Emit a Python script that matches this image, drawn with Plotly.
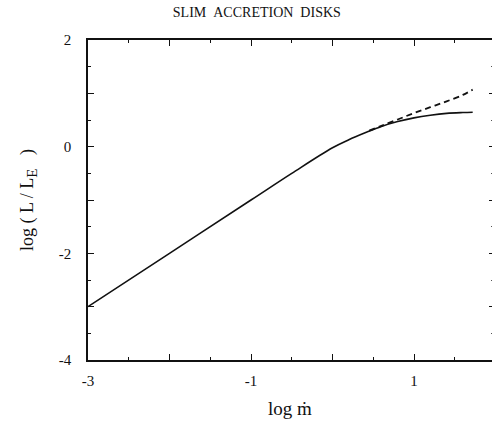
import plotly.graph_objects as go

# log(mdot) sample points and the two luminosity curves
log_mdot = [-3.0, -2.0, -1.0, -0.5, 0.0, 0.2, 0.4, 0.6, 0.8, 1.0, 1.2, 1.4, 1.6, 1.72]
log_L_solid = [-3.0, -2.0, -1.0, -0.5, -0.02, 0.13, 0.26, 0.38, 0.47, 0.54, 0.59, 0.625, 0.64, 0.645]

log_mdot_dash = [0.45, 0.6, 0.8, 1.0, 1.2, 1.4, 1.6, 1.72]
log_L_dash = [0.30, 0.39, 0.51, 0.63, 0.74, 0.85, 0.97, 1.07]

# labelled ticks
x_label_vals = [-3, -1, 1]
x_label_text = ["-3", "-1", "1"]
y_label_vals = [2, 0, -2, -4]
y_label_text = ["2", "0", "-2", "-4"]
# unlabelled major ticks
x_plain_vals = [-2, 0, 2]
y_plain_vals = [1, -1, -3]

X_RANGE = [-3, 1.957]
Y_RANGE = [-4, 2]

serif = "Liberation Serif, Times New Roman, serif"
ink = "#111"

fig = go.Figure()
fig.add_trace(go.Scatter(x=log_mdot, y=log_L_solid, mode="lines",
                         line=dict(color=ink, width=1.6, shape="spline"),
                         showlegend=False))
fig.add_trace(go.Scatter(x=log_mdot_dash, y=log_L_dash, mode="lines",
                         line=dict(color=ink, width=1.8, dash="6px,4px", shape="spline"),
                         showlegend=False))
# empty traces that bring the extra tick axes into the figure
fig.add_trace(go.Scatter(x=[None], y=[None], xaxis="x2", yaxis="y2", showlegend=False))
fig.add_trace(go.Scatter(x=[None], y=[None], xaxis="x2", yaxis="y3", showlegend=False))

line_style = dict(showgrid=False, zeroline=False, showline=True,
                  linecolor=ink, linewidth=1.5, ticks="inside",
                  tickcolor=ink, tickwidth=1.3, ticklen=6)
minor_half = dict(dtick=0.5, tick0=0, ticklen=3, ticks="inside",
                  tickcolor=ink, tickwidth=1.2)

fig.update_layout(
    width=492, height=426,
    margin=dict(l=88, r=0, t=40, b=66),
    paper_bgcolor="white", plot_bgcolor="white",
    title=dict(text="SLIM&nbsp;&nbsp;ACCRETION&nbsp;&nbsp;DISKS",
               font=dict(family=serif, size=14, color=ink),
               x=0.522, xanchor="center", y=0.972, yanchor="middle"),
    xaxis=dict(range=X_RANGE, tickvals=x_label_vals, ticktext=x_label_text,
               mirror="ticks", ticklabelstandoff=6,
               tickfont=dict(family=serif, size=15, color=ink),
               title=dict(text="log ṁ", font=dict(family=serif, size=19, color=ink),
                          standoff=14),
               **line_style),
    xaxis2=dict(range=X_RANGE, overlaying="x", side="bottom", tickvals=x_plain_vals,
                mirror="ticks", showticklabels=False, minor=minor_half,
                **line_style),
    yaxis=dict(range=Y_RANGE, tickvals=y_label_vals, ticktext=y_label_text,
               ticklabelstandoff=12,
               tickfont=dict(family=serif, size=15, color=ink),
               title=dict(text="log ( L / L<sub><span style='font-size:15px'>E</span></sub>&nbsp;&nbsp;&nbsp;)",
                          font=dict(family=serif, size=18, color=ink),
                          standoff=20),
               **line_style),
    yaxis3=dict(range=Y_RANGE, overlaying="y", side="left", tickvals=y_plain_vals,
                showticklabels=False, minor=minor_half, **line_style),
    # right-hand tick marks only (the frame edge lies past the page)
    yaxis2=dict(range=Y_RANGE, overlaying="y", side="right", showline=False,
                showgrid=False, zeroline=False, ticks="inside", ticklen=3,
                tickcolor=ink, tickwidth=1.3, tickvals=[1, 0, -1, -2, -3],
                showticklabels=False,
                minor=dict(tickvals=[1.5, 0.5, -0.5, -1.5, -2.5, -3.5],
                           ticklen=1, ticks="inside", tickcolor="#555")),
)

fig.write_html("out.html")
